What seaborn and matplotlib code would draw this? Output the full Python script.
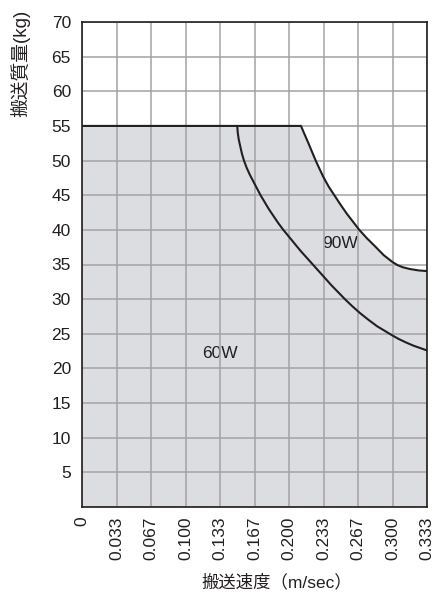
import matplotlib
matplotlib.use("Agg")
import matplotlib.pyplot as plt
import seaborn as sns
import pandas as pd

# ---- data ----
speed_90w = [0.0, 0.2116, 0.2150, 0.2185, 0.2220, 0.2258, 0.2295, 0.2333,
             0.2385, 0.2438, 0.2495, 0.2555, 0.2617, 0.2679, 0.2755, 0.2833,
             0.2915, 0.3000, 0.3050, 0.3100, 0.3167, 0.3250, 0.3333]
mass_90w = [55, 55, 53.8, 52.6, 51.35, 50, 48.8, 47.6, 46.2, 45, 43.7, 42.4,
            41.2, 40, 38.75, 37.6, 36.35, 35.35, 34.9, 34.6, 34.35, 34.15,
            34.05]

speed_60w = [0.1500, 0.1505, 0.1515, 0.1530, 0.1545, 0.1565, 0.1590, 0.1620,
             0.1655, 0.1690, 0.1725, 0.1765, 0.1805, 0.1850, 0.1895, 0.1945,
             0.2000, 0.2055, 0.2110, 0.2170, 0.2230, 0.2290, 0.2350, 0.2410,
             0.2475, 0.2540, 0.2610, 0.2685, 0.2765, 0.2850, 0.2950, 0.3000,
             0.3060, 0.3130, 0.3200, 0.3270, 0.3333]
mass_60w = [55, 54, 53, 52, 51, 50, 49, 48, 47, 46, 45, 44, 43, 42, 41, 40,
            39, 38, 37, 36, 35, 34, 33, 32, 31, 30, 29, 28, 27.05, 26.1, 25.2,
            24.75, 24.25, 23.75, 23.3, 22.93, 22.6]

x_ticks = [i / 30 for i in range(11)]
x_tick_labels = ["0", "0.033", "0.067", "0.100", "0.133", "0.167", "0.200",
                 "0.233", "0.267", "0.300", "0.333"]
y_ticks = list(range(0, 75, 5))
y_tick_labels = [""] + [str(v) for v in range(5, 75, 5)]

labels_text = ["90W", "60W"]
labels_x = [0.2493, 0.1333]
labels_y = [38.1, 22.1]

x_label = "搬送速度（m/sec）"
y_label = "搬送質量(kg)"

# ---- style ----
sns.set_theme(style="white")
plt.rcParams["font.family"] = ["Liberation Sans", "Noto Sans CJK JP", "DejaVu Sans"]

FILL = "#dcdde0"
GRID = "#a3a3a3"
INK = "#231f20"

df90 = pd.DataFrame({"speed": speed_90w, "mass": mass_90w})
df60 = pd.DataFrame({"speed": speed_60w, "mass": mass_60w})

fig = plt.figure(figsize=(4.34, 5.94), dpi=100)
ax = fig.add_axes([82 / 434, 1 - 507 / 594, 345 / 434, 485 / 594])

ax.fill_between(df90["speed"], 0, df90["mass"], color=FILL, lw=0, zorder=0.5)

ax.set_axisbelow(False)
ax.grid(True, color=GRID, lw=1.1, zorder=1)

sns.lineplot(data=df90, x="speed", y="mass", sort=False, estimator=None,
             color=INK, lw=1.5, ax=ax, zorder=3)
sns.lineplot(data=df60, x="speed", y="mass", sort=False, estimator=None,
             color=INK, lw=1.5, ax=ax, zorder=3)

for t, xx, yy in zip(labels_text, labels_x, labels_y):
    ax.text(xx, yy, t, ha="center", va="center", fontsize=12.5, color=INK,
            zorder=2, bbox=dict(facecolor=FILL, edgecolor="none", pad=2.5))

ax.set_xlim(0, 10 / 30)
ax.set_ylim(0, 70)
ax.set_xticks(x_ticks)
ax.set_xticklabels(x_tick_labels, rotation=90, va="top", ha="center")
ax.set_yticks(y_ticks)
ax.set_yticklabels(y_tick_labels)
ax.tick_params(axis="both", length=0, labelsize=12.5, colors=INK)
ax.tick_params(axis="y", pad=8)
ax.tick_params(axis="x", pad=7)
ax.set_xlabel("")
ax.set_ylabel("")

for s in ax.spines.values():
    s.set_visible(True)
    s.set_color(INK)
    s.set_linewidth(1.2)
    s.set_zorder(4)

fig.text(20 / 434, 1 - 63 / 594, y_label, rotation=90, ha="center",
         va="center", fontsize=13.5, color=INK)
fig.text(277 / 434, 1 - 582 / 594, x_label, ha="center", va="center",
         fontsize=12.5, color=INK)

fig.savefig("out.png", dpi=100)
